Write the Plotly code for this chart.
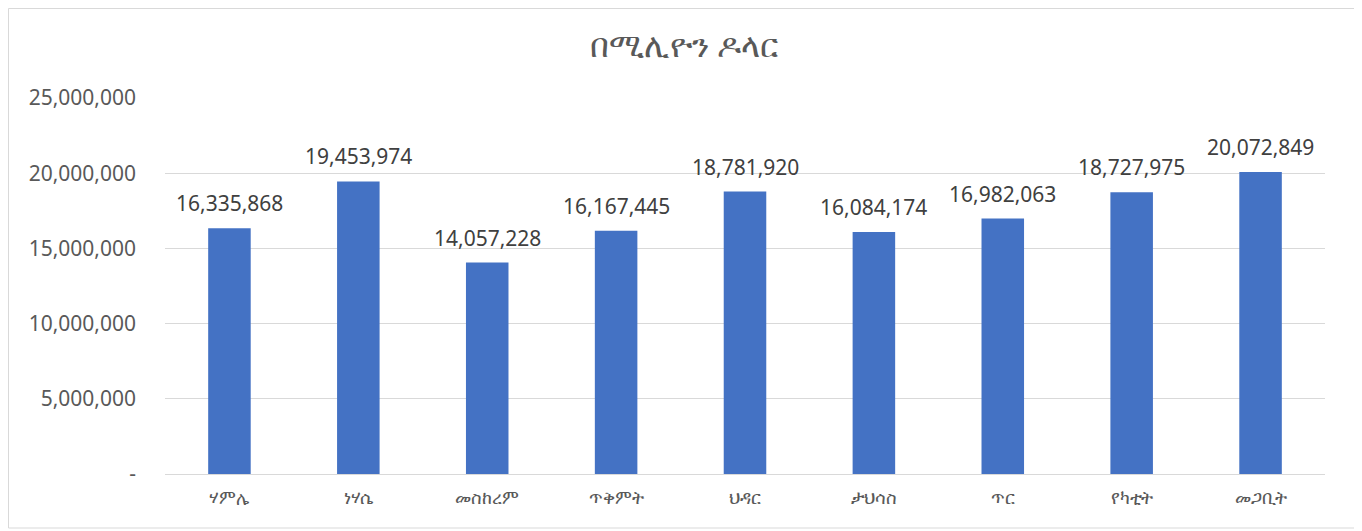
import plotly.graph_objects as go

title = "በሚሊዮን ዶላር"
months = ["ሃምሌ", "ነሃሴ", "መስከረም", "ጥቅምት", "ህዳር", "ታህሳስ", "ጥር", "የካቲት", "መጋቢት"]
values = [16335868, 19453974, 14057228, 16167445, 18781920, 16084174, 16982063, 18727975, 20072849]
tick_vals = [0, 5000000, 10000000, 15000000, 20000000, 25000000]
tick_text = ["-", "5,000,000", "10,000,000", "15,000,000", "20,000,000", "25,000,000"]

# page has an 8px body margin, so the figure is sized to the remaining area
W, H = 1354, 523
L, R, T, B = 157, 37, 90, 57
pw, ph = W - L - R, H - T - B

font_fam = "Noto Sans, Open Sans, DejaVu Sans, sans-serif"
grey = "#595959"

fig = go.Figure(go.Bar(
    x=months, y=values,
    marker=dict(color="#4472C4", line=dict(width=0)),
    hovertemplate="%{x}: %{y:,.0f}<extra></extra>",
))

for m, v in zip(months, values):
    fig.add_annotation(x=m, y=v, text=f"{v:,}", showarrow=False,
                       yanchor="middle", yshift=25,
                       font=dict(size=21, color="#404040", family=font_fam))

fig.update_layout(
    width=W, height=H,
    margin=dict(l=L, r=R, t=T, b=B),
    paper_bgcolor="white", plot_bgcolor="white",
    bargap=0.67,
    showlegend=False,
    title=dict(text=title, x=676 / W, xref="container", xanchor="center",
               y=1 - 37 / H, yref="container", yanchor="middle",
               font=dict(size=33, color=grey, family=font_fam)),
    font=dict(family=font_fam, color=grey),
    xaxis=dict(showgrid=False, showline=True, linecolor="#D9D9D9", linewidth=1,
               ticks="", tickfont=dict(size=18, color=grey), ticklabelstandoff=7),
    yaxis=dict(range=[0, 25000000], tickvals=tick_vals, ticktext=tick_text,
               showgrid=True, gridcolor="#D9D9D9", gridwidth=1, zeroline=False,
               showline=False, ticks="", tickfont=dict(size=21, color=grey),
               ticklabelstandoff=28),
    shapes=[dict(type="rect", xref="paper", yref="paper",
                 x0=(0.5 - L) / pw, x1=(1347 - L) / pw,
                 y0=-(520 - T - ph) / ph, y1=1 + (T - 0.5) / ph,
                 line=dict(color="#D9D9D9", width=1), fillcolor="rgba(0,0,0,0)", layer="below")],
)

fig.write_html("out.html")
